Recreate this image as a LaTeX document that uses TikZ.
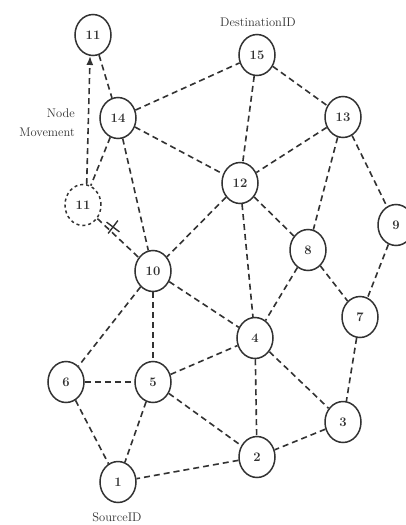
\documentclass[tikz,border=0pt]{standalone}
\usetikzlibrary{shapes.geometric,shapes.misc,arrows.meta}
\definecolor{ink}{RGB}{50,50,50}
\begin{document}
\begin{tikzpicture}[x=1pt,y=-1pt,
  nd/.style={ellipse,draw=ink,line width=1.5pt,minimum width=36pt,minimum height=41pt,inner sep=0pt,font=\fontsize{13}{15}\selectfont\bfseries,text=ink,fill=white},
  ln/.style={draw=ink,line width=1.6pt,dash pattern=on 6pt off 4pt},
  lbl/.style={font=\fontsize{12.5}{14}\selectfont,text=ink,inner sep=0pt}]
\useasboundingbox[fill=white] (0,0) rectangle (405,525);
% nodes
\node[nd] (n11t) at (93,35) {11};
\node[nd] (n14) at (118,118) {14};
\node[nd] (n15) at (257,55) {15};
\node[nd] (n13) at (343,117) {13};
\node[nd] (n12) at (240,183) {12};
\node[nd,dashed] (n11d) at (83,205) {11};
\node[nd] (n9) at (396,225) {9};
\node[nd] (n8) at (308,250) {8};
\node[nd] (n10) at (153,271) {10};
\node[nd] (n7) at (360,317) {7};
\node[nd] (n4) at (255,338) {4};
\node[nd] (n6) at (66,382) {6};
\node[nd] (n5) at (153,382) {5};
\node[nd] (n3) at (343,422) {3};
\node[nd] (n2) at (257,457) {2};
\node[nd] (n1) at (118,482) {1};
% labels
\node[lbl] (dst) at (258,22) {DestinationID};
\node[lbl] (src) at (117,517) {SourceID};
\node[lbl,anchor=east] (nodel) at (75,113) {Node};
\node[lbl,anchor=east] (movl) at (75,132) {Movement};
% edges
\foreach \a/\b in {n11t/n14, n14/n15, n14/n12, n14/n11d, n14/n10,
  n15/n12, n15/n13, n13/n12, n13/n8, n13/n9, n12/n10, n12/n8, n12/n4,
  n9/n7, n8/n7, n8/n4, n10/n4, n10/n5, n10/n6, n6/n5, n6/n1, n5/n1,
  n5/n4, n5/n2, n4/n2, n4/n3, n7/n3, n3/n2, n2/n1, n11d/n10}
  \draw[ln] (\a) -- (\b);
\draw[ln,-{Latex[length=9pt,width=7pt]}] (n11d.80) -- (n11t.262);
% broken-link mark
\node[cross out,draw=ink,line width=1.4pt,minimum size=10pt,inner sep=0pt,rotate=8] (brk) at (113,227) {};
\end{tikzpicture}
\end{document}
